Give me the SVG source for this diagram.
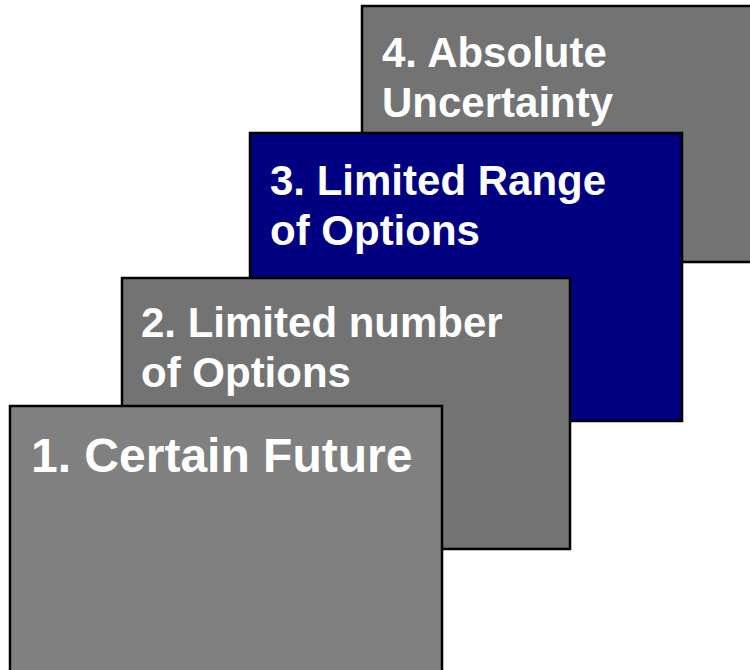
<svg xmlns="http://www.w3.org/2000/svg" width="750" height="670" viewBox="0 0 750 670">
<style>
.box{stroke:#000;stroke-width:2.5}
.t{font-family:"Liberation Sans",Arial,sans-serif;font-weight:bold;fill:#fff;font-size:42px}
</style>
<rect width="750" height="670" fill="#fff"/>
<g id="node4">
<rect class="box" x="362" y="6" width="400" height="256" fill="#737373"/>
<text class="t" x="382" y="67">4. Absolute</text>
<text class="t" x="382" y="117">Uncertainty</text>
</g>
<g id="node3">
<rect class="box" x="250" y="133" width="432" height="288" fill="#000080"/>
<text class="t" x="270" y="195">3. Limited Range</text>
<text class="t" x="270" y="245">of Options</text>
</g>
<g id="node2">
<rect class="box" x="122" y="278" width="448" height="271" fill="#737373"/>
<text class="t" x="141" y="337">2. Limited number</text>
<text class="t" x="141" y="387">of Options</text>
</g>
<g id="node1">
<rect class="box" x="10" y="406" width="432" height="280" fill="#808080"/>
<text class="t" x="31" y="472" style="font-size:48px">1. Certain Future</text>
</g>
<g id="connectors"/>
</svg>
